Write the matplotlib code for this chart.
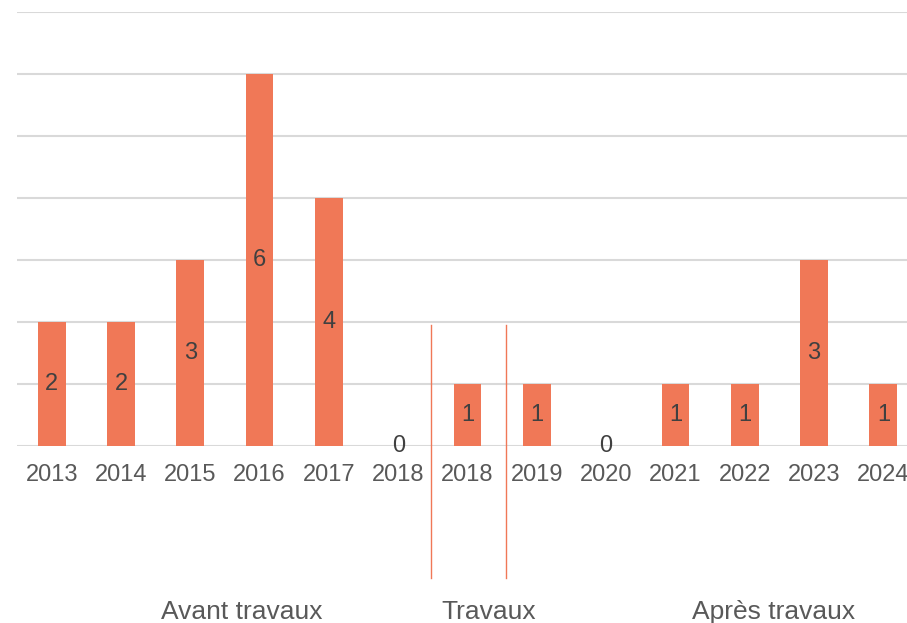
import matplotlib.pyplot as plt
import matplotlib.transforms as mtransforms

plt.rcParams['font.family'] = ['Liberation Sans', 'DejaVu Sans']

years = ['2013', '2014', '2015', '2016', '2017', '2018',
         '2018', '2019', '2020', '2021', '2022', '2023', '2024']
labels = [2, 2, 3, 6, 4, 0, 1, 1, 0, 1, 1, 3, 1]
heights = [2, 2, 3, 6, 4, 0, 1, 1, 0, 1, 1, 3, 1]
groups = ['Avant travaux', 'Travaux', 'Après travaux']
group_pos = [2.74, 6.31, 10.42]
separators = [5.47, 6.55]

bar_color = '#F07857'
fig = plt.figure(figsize=(9.07, 6.23), dpi=100)
ax = fig.add_axes([17 / 907, 177 / 623, 901 / 907, 434 / 623])

x = range(len(years))
ax.bar(x, heights, width=0.4, color=bar_color, zorder=2)
for i, (h, lb) in enumerate(zip(heights, labels)):
    ax.text(i, h / 2, str(lb), ha='center', va='center', fontsize=17, color='#404040', zorder=3)

ax.set_xlim(-0.5, len(years) - 0.5)
ax.set_ylim(0, 7)
ax.set_yticks(range(0, 8))
ax.yaxis.grid(True, color='#D9D9D9', linewidth=1.5, zorder=0)
ax.set_yticklabels([])
ax.tick_params(axis='y', length=0)
ax.set_xticks(list(x))
ax.set_xticklabels(years, fontsize=17, color='#595959')
ax.tick_params(axis='x', length=0, pad=13)
for s in ax.spines.values():
    s.set_visible(False)

trans = mtransforms.blended_transform_factory(ax.transData, ax.transAxes)
for sx in separators:
    ax.plot([sx, sx], [0.279, -0.304], color=bar_color, linewidth=1.0, transform=trans, clip_on=False)
for g, gx in zip(groups, group_pos):
    ax.text(gx, -0.382, g, transform=trans, ha='center', va='center', fontsize=19, color='#595959')

fig.savefig('out.png', dpi=100)
